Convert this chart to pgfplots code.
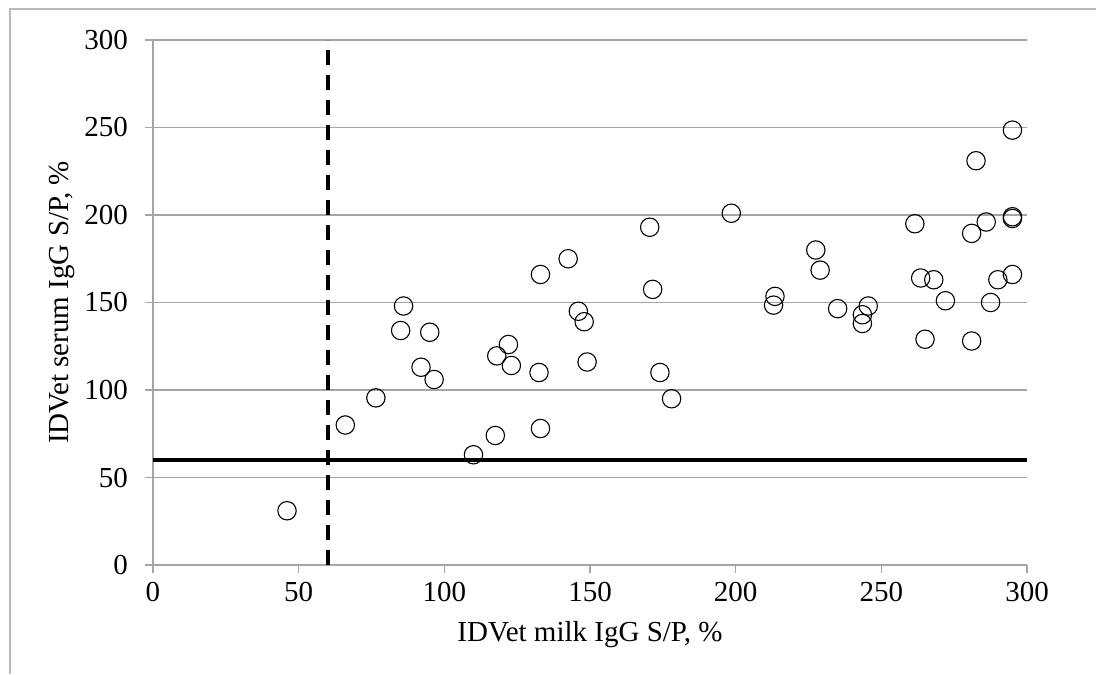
\documentclass[border=0pt]{standalone}
\usepackage{fontspec}
\setmainfont{Liberation Serif}
\usepackage{pgfplots}
\pgfplotsset{compat=1.18}
\begin{document}
\begin{tikzpicture}
\definecolor{gridc}{RGB}{165,165,165}
\definecolor{framec}{RGB}{185,185,185}
\useasboundingbox (-76.5pt,-54.5pt) rectangle (471.5pt,282.5pt);
\draw[framec, line width=0.8pt] (-71.5pt,-54.5pt) -- (-71.5pt,278pt) -- (471.5pt,278pt);
\begin{axis}[
  at={(0pt,0pt)}, anchor=south west,
  width=437pt, height=262.5pt, scale only axis,
  xmin=0, xmax=300, ymin=0, ymax=300,
  xtick={0,50,...,300}, ytick={0,50,...,300},
  axis x line=bottom, axis y line=left,
  axis line style={gridc, line width=0.6pt, -},
  ymajorgrids, grid style={gridc, line width=0.6pt},
  tick style={gridc, line width=0.6pt},
  tick align=outside, major tick length=4pt,
  /pgf/number format/assume math mode=true,
  ticklabel style={font=\fontsize{14.5}{17}\selectfont, text=black},
  xticklabel style={yshift=-1pt},
  yticklabel style={xshift=-5pt},
  xlabel={IDVet milk IgG S/P, \%},
  ylabel={IDVet serum IgG S/P, \%},
  label style={font=\fontsize{14.5}{17}\selectfont},
  xlabel style={yshift=-3pt},
  ylabel style={yshift=-2pt},
  clip=false,
]
\addplot[black, line width=2pt] coordinates {(0,60) (300,60)};
\addplot[black, line width=2pt, dash pattern=on 7.5pt off 5pt] coordinates {(60,0) (60,300)};
\addplot[only marks, mark=o, mark size=4.6pt, mark options={black, line width=0.55pt}] coordinates {
(46,31) (66,80) (76.5,95.5) (85,134) (86,148) (92,113) (95,133) (96.5,106)
(110,63) (117.5,74) (118,119.5) (122,126) (123,114) (132.5,110) (133,78) (133,166)
(142.5,175) (146,145) (148,139) (149,116) (170.5,193) (171.5,157.5) (174,110) (178,95)
(198.5,201) (213,148.5) (213.5,153.5) (227.5,180) (229,168.5) (235,146.5) (243.5,143) (243.5,138)
(245.5,148) (261.5,195) (263.5,164) (265,129) (268,163) (272,151) (281,189.5) (281,128)
(282.5,231) (286,196) (287.5,150) (290,163) (295,248.5) (295,199) (295,198) (295,166)
};
\end{axis}
\end{tikzpicture}
\end{document}
